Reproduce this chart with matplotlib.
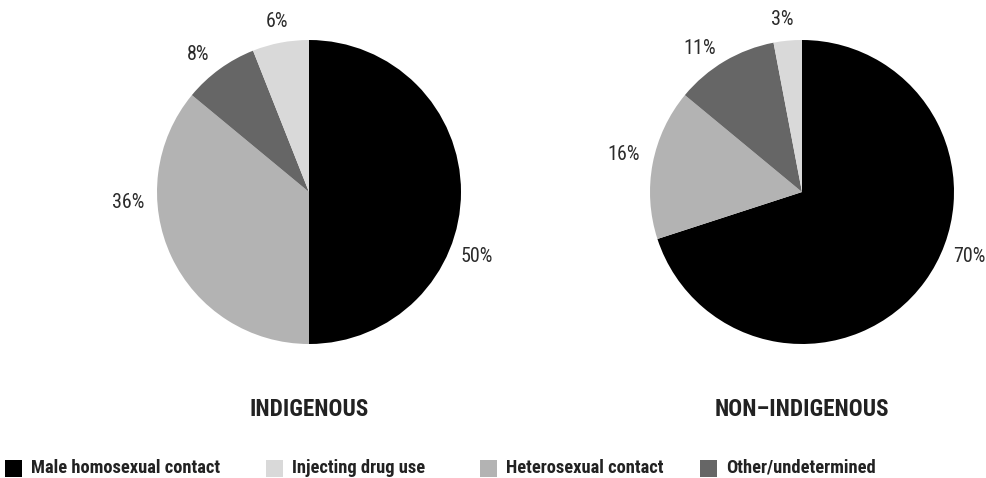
import numpy as np
import matplotlib
matplotlib.use("Agg")
import matplotlib.pyplot as plt
from matplotlib.patches import Rectangle
from matplotlib import font_manager

# Prefer a condensed sans if one is available
_names = {f.name for f in font_manager.fontManager.ttflist}
_condensed = [n for n in ["Roboto Condensed", "Liberation Sans Narrow"] if n in _names]
plt.rcParams['font.family'] = _condensed + ['Roboto', 'DejaVu Sans']
_scale = 1.15 if _condensed else 1.0

# Exposure categories (legend order) and their fill colours
categories = ["Male homosexual contact", "Injecting drug use",
              "Heterosexual contact", "Other/undetermined"]
colors = ["#000000", "#d9d9d9", "#b3b3b3", "#666666"]

# Percentage share by exposure category
indigenous = [50, 6, 36, 8]
non_indigenous = [70, 3, 16, 11]

groups = ["INDIGENOUS", "NON\u2013INDIGENOUS"]

# Wedges are drawn clockwise from 12 o'clock in this order
wedge_order = [0, 2, 3, 1]

W, H = 986, 478
fig = plt.figure(figsize=(W / 100, H / 100), dpi=100)

R = 152          # pie radius in pixels
LIM = 1.35       # axis half-extent in radius units

# per-pie layout: centre (px from top-left), label angular shifts (deg) and distances
layouts = [
    dict(cx=309, cy=192, shift=[-21, -22, 3, 0], dist=[1.18, 1.19, 1.16, 1.14]),
    dict(cx=802, cy=192, shift=[15, -1, 5, 1], dist=[1.18, 1.20, 1.16, 1.14]),
]

for values, title, lay in zip([indigenous, non_indigenous], groups, layouts):
    size = 2 * R * LIM
    ax = fig.add_axes([(lay["cx"] - size / 2) / W, 1 - (lay["cy"] + size / 2) / H,
                       size / W, size / H])
    vals = [values[i] for i in wedge_order]
    cols = [colors[i] for i in wedge_order]
    wedges, _ = ax.pie(vals, colors=cols, startangle=90, counterclock=False,
                       radius=1.0, wedgeprops=dict(linewidth=0))
    for k, (w, v) in enumerate(zip(wedges, vals)):
        mid = np.deg2rad((w.theta1 + w.theta2) / 2 + lay["shift"][k])
        d = lay["dist"][k]
        ax.text(d * np.cos(mid), d * np.sin(mid), f"{v}%", ha="center", va="center",
                fontsize=12.5 * _scale, color="#2b2b2b")
    ax.set_xlim(-LIM, LIM)
    ax.set_ylim(-LIM, LIM)
    ax.set_aspect("equal")
    ax.axis("off")
    fig.text(lay["cx"] / W, 1 - 409 / H, title, ha="center", va="center",
             fontsize=14.5 * _scale, fontweight="bold", color="#222222")

# Legend row along the bottom
legend_x = [5, 266, 480, 700]
sq = 17
ly = 468
for x, lab, col in zip(legend_x, categories, colors):
    fig.patches.append(Rectangle((x / W, 1 - (ly + sq / 2) / H), sq / W, sq / H,
                                 transform=fig.transFigure, facecolor=col,
                                 edgecolor="none"))
    fig.text((x + sq + 9) / W, 1 - ly / H, lab, ha="left", va="center",
             fontsize=11.6 * _scale, fontweight="bold", color="#222222")

fig.savefig("out.png", dpi=100)
